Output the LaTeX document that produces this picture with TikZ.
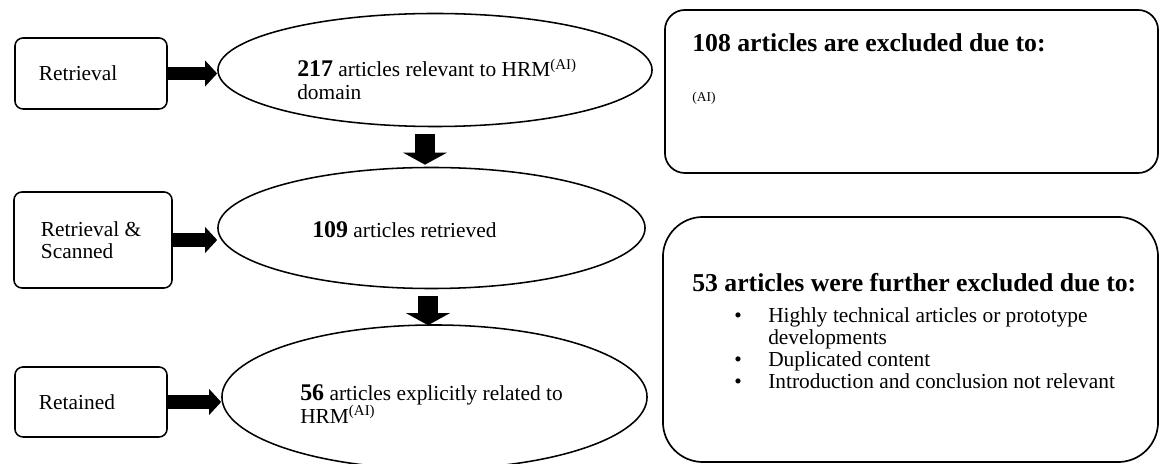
\documentclass[tikz,border=0pt]{standalone}
\usepackage{fontspec}
\setmainfont{Liberation Serif}
\usepackage{tikz}
\usetikzlibrary{arrows.meta,shapes,positioning,calc}

\newcommand{\bodyfont}{\fontsize{15.2}{16}\selectfont}
\newcommand{\numfont}{\fontsize{17}{17}\selectfont\bfseries}
\newcommand{\headfont}{\fontsize{18.3}{20}\selectfont\bfseries}
\newcommand{\tinyfont}{\fontsize{9.6}{11}\selectfont}

\tikzstyle{stagebox} = [rectangle, rounded corners=0.2cm, draw, line width=1.1pt, text width=2.6cm, align=flush left, inner sep=0pt, font=\bodyfont]
\tikzstyle{countell} = [ellipse, draw, line width=1.1pt, inner sep=0pt]
\tikzstyle{counttext} = [anchor=west, align=flush left, inner sep=0pt, font=\bodyfont]
\tikzstyle{notebox} = [rectangle, draw, line width=1.2pt]
\tikzstyle{harrow} = [line width=0.33cm, -{Triangle[width=0.63cm,length=0.3cm]}]
\tikzstyle{varrow} = [line width=0.5cm, -{Triangle[width=1.08cm,length=0.3cm]}]

\begin{document}
\begin{tikzpicture}[x=0.025cm, y=-0.025cm]
\useasboundingbox (0,0) rectangle (1160,464);
\clip (0,0) rectangle (1160,464);

% Stages
\node[stagebox, minimum width=3.8cm, minimum height=1.775cm] (ret) at (91,73.5) {Retrieval};
\node[stagebox, minimum width=3.95cm, minimum height=2.4cm] (scan) at (93,240) {Retrieval \&\\ Scanned};
\node[stagebox, minimum width=3.8cm, minimum height=1.75cm] (keep) at (91,402) {Retained};

% Article counts
\node[countell, minimum width=10.85cm, minimum height=2.825cm] (e1) at (435,70) {};
\node[counttext] (e1txt) at (297,79) {
{\numfont 217} articles relevant to HRM\textsuperscript{(AI)}\\
domain
};
\node[countell, minimum width=10.675cm, minimum height=3.025cm] (e2) at (431.5,228) {};
\node[counttext] (e2txt) at (312,230) {{\numfont 109} articles retrieved};
\node[countell, minimum width=10.625cm, minimum height=3.6cm] (e3) at (434.5,397) {};
\node[counttext] (e3txt) at (300,404) {
{\numfont 56} articles explicitly related to\\
HRM\textsuperscript{(AI)}
};

% Exclusions
\node[notebox, rounded corners=0.5cm, minimum width=12.325cm, minimum height=4.075cm] (ex1) at (911.5,91.5) {};
\node[anchor=base west, inner sep=0pt, font=\headfont] (ex1head) at (692,52) {108 articles are excluded due to:};
\node[anchor=base west, inner sep=0pt, font=\tinyfont] (ex1note) at (692,102) {(AI)};

\node[notebox, rounded corners=1cm, minimum width=12.375cm, minimum height=6.125cm] (ex2) at (910.5,339.5) {};
\node[anchor=base west, inner sep=0pt, font=\headfont] (ex2head) at (692,292) {53 articles were further excluded due to:};
\node[anchor=north west, inner sep=0pt, align=flush left, font=\fontsize{15.2}{15.7}\selectfont] (ex2list) at (734,307) {
\makebox[0.85cm][l]{\textbullet}Highly technical articles or prototype\\
\hspace*{0.85cm}developments\\
\makebox[0.85cm][l]{\textbullet}Duplicated content\\
\makebox[0.85cm][l]{\textbullet}Introduction and conclusion not relevant
};

% Arrows
\draw[harrow] (ret.east) -- (ret.east -| e1.west);
\draw[harrow] (scan.east) -- (scan.east -| e2.west);
\draw[harrow] (keep.east) -- (keep.east -| e3.west);
\draw[varrow] ($(e1.south)+(-10,6.5)$) -- ($(e1.south |- e2.north)+(-10,-2)$);
\draw[varrow] ($(e2.south)+(-3.5,6.5)$) -- ($(e2.south |- e3.north)+(-3.5,1)$);
\end{tikzpicture}
\end{document}
